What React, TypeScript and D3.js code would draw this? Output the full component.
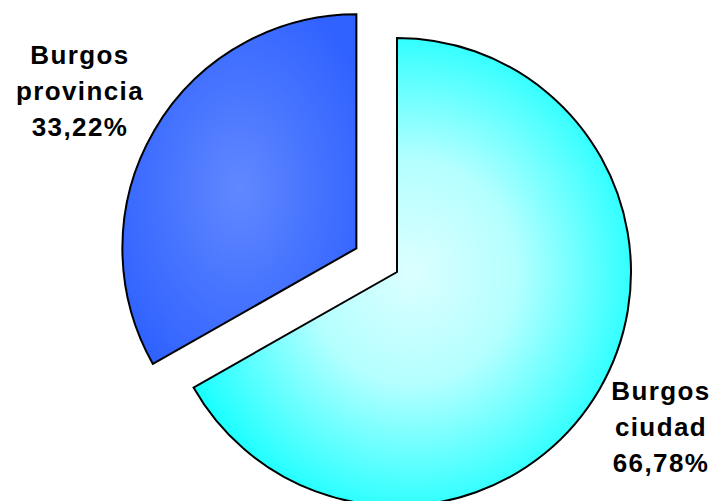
import React from "react";
import * as d3 from "d3";

const categories = ["Burgos ciudad", "Burgos provincia"];
const values = [66.78, 33.22];
const labelLines = [
  ["Burgos", "ciudad", "66,78%"],
  ["Burgos", "provincia", "33,22%"],
];
const explode = [0, 47];

const W = 714;
const H = 501;
const cx = 397;
const cy = 272;
const R = 234;

export default function App() {
  const pie = d3
    .pie<number>()
    .sort(null)
    .startAngle(0)
    .endAngle(2 * Math.PI)
    .value((d) => d);
  const arcs = pie(values);
  const arcGen = d3.arc<d3.PieArcDatum<number>>().innerRadius(0).outerRadius(R);

  const gradIds = ["gCyan", "gBlue"];
  const labelPos = [
    { x: 661, y: 400 },
    { x: 80, y: 64 },
  ];

  return (
    <svg
      width={W}
      height={H}
      style={{ position: "absolute", left: 0, top: 0, background: "#fff" }}
    >
      <defs>
        <radialGradient id="gCyan" cx="0.5" cy="0.5" r="0.6">
          <stop offset="0" stopColor="#dcffff" />
          <stop offset="0.4" stopColor="#b4ffff" />
          <stop offset="1" stopColor="#00ffff" />
        </radialGradient>
        <radialGradient id="gBlue" cx="0.5" cy="0.5" r="0.6">
          <stop offset="0" stopColor="#6088ff" />
          <stop offset="1" stopColor="#3062ff" />
        </radialGradient>
      </defs>
      {arcs.map((a, i) => {
        const mid = (a.startAngle + a.endAngle) / 2;
        const dx = Math.sin(mid) * explode[i];
        const dy = -Math.cos(mid) * explode[i];
        return (
          <path
            key={categories[i]}
            d={arcGen(a) || ""}
            transform={`translate(${cx + dx},${cy + dy})`}
            fill={`url(#${gradIds[i]})`}
            stroke="#000"
            strokeWidth={2}
            strokeLinejoin="miter"
          />
        );
      })}
      {labelLines.map((lines, i) => (
        <text
          key={i}
          x={labelPos[i].x}
          y={labelPos[i].y}
          textAnchor="middle"
          fontFamily="'Liberation Sans', Arial, sans-serif"
          fontWeight="bold"
          fontSize={26}
          letterSpacing={1.4}
          fill="#000"
        >
          {lines.map((l, j) => (
            <tspan key={j} x={labelPos[i].x} y={labelPos[i].y + j * 36}>
              {l}
            </tspan>
          ))}
        </text>
      ))}
    </svg>
  );
}
